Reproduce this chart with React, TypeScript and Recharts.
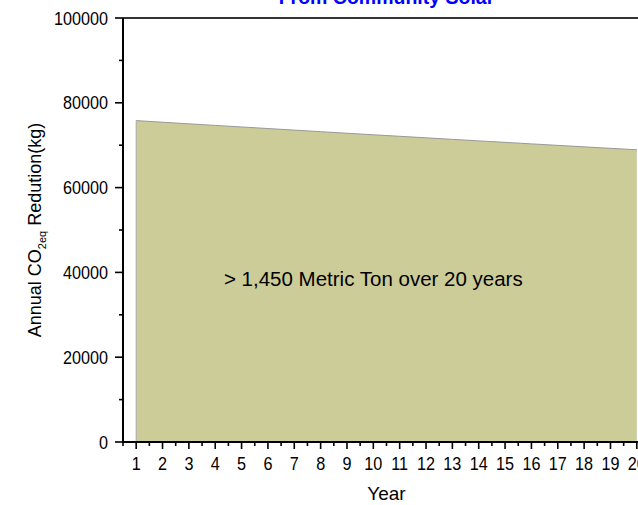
import React from "react";
import { AreaChart, Area, XAxis, YAxis, ReferenceLine, ReferenceDot, Label } from "recharts";

const years = [1, 2, 3, 4, 5, 6, 7, 8, 9, 10, 11, 12, 13, 14, 15, 16, 17, 18, 19, 20];
const co2Reduction = [
  75800, 75420, 75040, 74670, 74300, 73930, 73560, 73190, 72820, 72460,
  72100, 71740, 71380, 71020, 70670, 70310, 69960, 69610, 69260, 68920,
];
const xTicks = [0.5, 1, 1.5, 2, 2.5, 3, 3.5, 4, 4.5, 5, 5.5, 6, 6.5, 7, 7.5, 8, 8.5, 9, 9.5, 10, 10.5, 11, 11.5, 12, 12.5, 13, 13.5, 14, 14.5, 15, 15.5, 16, 16.5, 17, 17.5, 18, 18.5, 19, 19.5, 20, 20.5];
const yTicks = [0, 10000, 20000, 30000, 40000, 50000, 60000, 70000, 80000, 90000, 100000];
const title = "From Community Solar";
const note = "> 1,450 Metric Ton over 20 years";

const data = years.map((y, i) => ({ year: y, co2: co2Reduction[i] }));

const FONT = "'Liberation Sans', Arial, sans-serif";

const XTick = (props: any) => {
  const { x, y, payload } = props;
  const v = payload.value;
  const major = Number.isInteger(v);
  return (
    <g>
      <line x1={x} y1={y} x2={x} y2={y + (major ? 7 : 4)} stroke="#000" strokeWidth={1.6} />
      {major && (
        <text
          transform={`translate(${x}, ${y + 28}) scale(0.9, 1)`}
          x={0}
          y={0}
          textAnchor="middle"
          fontSize={18}
          fontFamily={FONT}
          fill="#000"
        >
          {v}
        </text>
      )}
    </g>
  );
};

const YTick = (props: any) => {
  const { x, y, payload } = props;
  const v = payload.value;
  const major = v % 20000 === 0;
  return (
    <g>
      <line x1={x} y1={y} x2={x - (major ? 8 : 4)} y2={y} stroke="#000" strokeWidth={1.6} />
      {major && (
        <text
          transform={`translate(${x - 15}, ${y + 6.5}) scale(0.9, 1)`}
          x={0}
          y={0}
          textAnchor="end"
          fontSize={18}
          fontFamily={FONT}
          fill="#000"
        >
          {v}
        </text>
      )}
    </g>
  );
};

const YLabel = (props: any) => {
  const vb = props.viewBox || {};
  const cy = vb.y + vb.height / 2;
  const cx = 41;
  return (
    <text
      x={cx}
      y={cy}
      transform={`rotate(-90, ${cx}, ${cy})`}
      textAnchor="middle"
      fontSize={18}
      fontFamily={FONT}
      fill="#000"
    >
      Annual CO
      <tspan fontSize={11} dy={5}>2eq</tspan>
      <tspan dy={-5}> Redution(kg)</tspan>
    </text>
  );
};

const XLabel = (props: any) => {
  const vb = props.viewBox || {};
  return (
    <text x={vb.x + vb.width / 2} y={vb.y + 58} textAnchor="middle" fontSize={19} fontFamily={FONT} fill="#000">
      Year
    </text>
  );
};

export default function App() {
  return (
    <div style={{ position: "fixed", top: 0, left: 0, width: 638, height: 505, overflow: "hidden", background: "#fff" }}>
      <AreaChart width={700} height={505} data={data} margin={{ top: 18, right: 50, bottom: 23, left: 43 }}>
        <XAxis
          dataKey="year"
          type="number"
          domain={[0.5, 20.5]}
          ticks={xTicks}
          interval={0}
          tickSize={0}
          tickMargin={0}
          tickLine={false}
          tick={<XTick />}
          height={40}
          axisLine={{ stroke: "#000", strokeWidth: 2 }}
        >
          <Label content={<XLabel />} />
        </XAxis>
        <YAxis
          type="number"
          domain={[0, 100000]}
          ticks={yTicks}
          interval={0}
          tickSize={0}
          tickMargin={0}
          tickLine={false}
          tick={<YTick />}
          width={80}
          axisLine={{ stroke: "#000", strokeWidth: 2 }}
        >
          <Label content={<YLabel />} />
        </YAxis>
        <Area
          type="linear"
          dataKey="co2"
          fill="#CCCC99"
          fillOpacity={1}
          stroke="#999999"
          strokeWidth={1}
          isAnimationActive={false}
        />
        <ReferenceLine
          segment={[{ x: years[0], y: 0 }, { x: years[0], y: co2Reduction[0] }]}
          stroke="#aaaaaa"
          strokeWidth={1}
        />
        <ReferenceLine y={100000} stroke="#333" strokeWidth={2}>
          <Label value={title} position="top" offset={14} fill="#0000FF" fontSize={19.5} fontWeight="bold" fontFamily={FONT} />
        </ReferenceLine>
        <ReferenceDot x={10} y={38400} r={0} fill="none" stroke="none">
          <Label value={note} position="center" fill="#000" fontSize={20.5} fontFamily={FONT} />
        </ReferenceDot>
      </AreaChart>
    </div>
  );
}
